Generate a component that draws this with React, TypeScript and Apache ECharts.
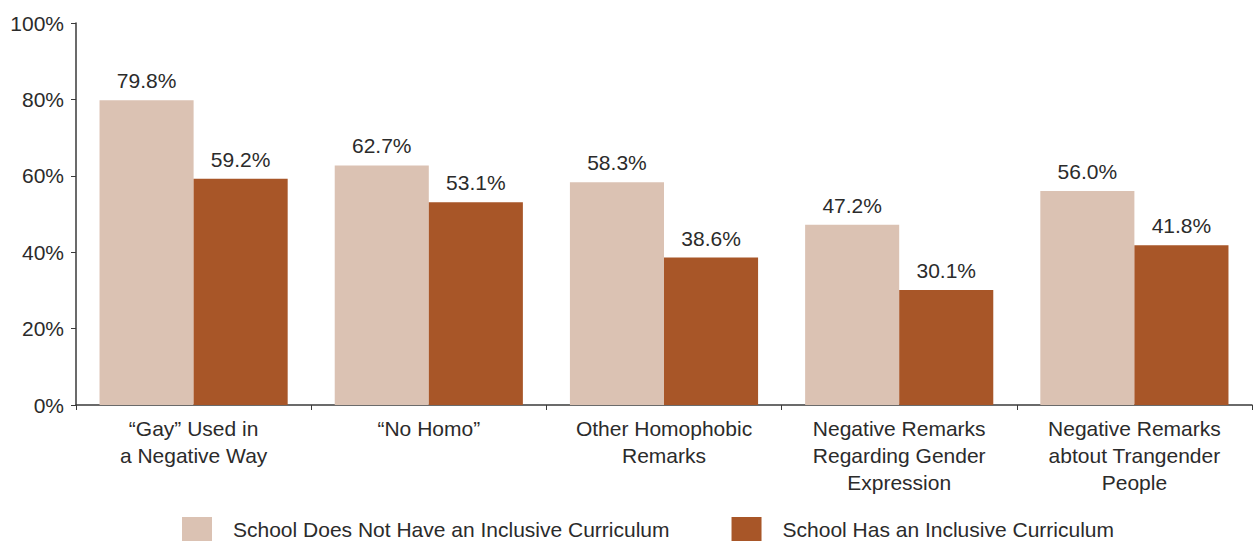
import React, { useEffect, useRef } from "react";
import * as echarts from "echarts";

const categories = [
  "\u201cGay\u201d Used in\na Negative Way",
  "\u201cNo Homo\u201d",
  "Other Homophobic\nRemarks",
  "Negative Remarks\nRegarding Gender\nExpression",
  "Negative Remarks\nabtout Trangender\nPeople",
];
const noCurriculum = [79.8, 62.7, 58.3, 47.2, 56.0];
const hasCurriculum = [59.2, 53.1, 38.6, 30.1, 41.8];
const seriesNames = [
  "School Does Not Have an Inclusive Curriculum",
  "School Has an Inclusive Curriculum",
];

const FONT = "Liberation Sans";
const TEXT = "#2b2b2b";
const FS = 21;

export default function App() {
  const ref = useRef<HTMLDivElement>(null);
  useEffect(() => {
    const chart = echarts.init(ref.current!, null, { renderer: "svg" });
    const label = {
      show: true,
      position: "top",
      distance: 9,
      fontFamily: FONT,
      fontSize: FS,
      color: TEXT,
      formatter: (p: any) => p.value.toFixed(1) + "%",
    };
    chart.setOption({
      animation: false,
      textStyle: { fontFamily: FONT },
      grid: { left: 76, right: 1, top: 23, bottom: 136, containLabel: false },
      legend: {
        bottom: 0,
        left: 182,
        padding: 0,
        itemWidth: 30,
        itemHeight: 24,
        itemGap: 62,
        icon: "rect",
        textStyle: { fontFamily: FONT, fontSize: FS, color: TEXT, padding: [0, 0, 0, 16] },
        data: seriesNames,
      },
      xAxis: {
        type: "category",
        data: categories,
        axisLine: { lineStyle: { color: "#3a3a3a", width: 1.5 } },
        axisTick: { show: true, length: 5, lineStyle: { color: "#3a3a3a" } },
        axisLabel: {
          fontFamily: FONT,
          fontSize: FS,
          color: TEXT,
          lineHeight: 27,
          margin: 10,
          interval: 0,
        },
      },
      yAxis: {
        type: "value",
        min: 0,
        max: 100,
        interval: 20,
        splitLine: { show: false },
        axisLine: { show: true, lineStyle: { color: "#3a3a3a", width: 1.5 } },
        axisTick: { show: true, length: 5, lineStyle: { color: "#3a3a3a" } },
        axisLabel: {
          fontFamily: FONT,
          fontSize: FS,
          color: TEXT,
          margin: 12,
          formatter: "{value}%",
        },
      },
      series: [
        {
          name: seriesNames[0],
          type: "bar",
          data: noCurriculum,
          barGap: "0%",
          barCategoryGap: "20%",
          itemStyle: { color: "#dbc2b3" },
          label,
        },
        {
          name: seriesNames[1],
          type: "bar",
          data: hasCurriculum,
          itemStyle: { color: "#a85628" },
          label,
        },
      ],
    });
    return () => chart.dispose();
  }, []);
  return (
    <div
      ref={ref}
      style={{ position: "absolute", left: 0, top: 0, width: 1253, height: 541 }}
    />
  );
}
